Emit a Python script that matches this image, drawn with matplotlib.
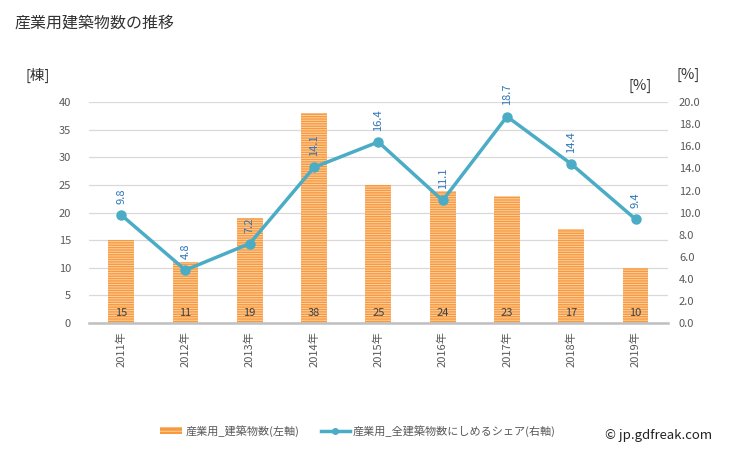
import matplotlib
matplotlib.use("Agg")
import matplotlib.pyplot as plt
from matplotlib.patches import Rectangle
from matplotlib.lines import Line2D

plt.rcParams['font.family'] = ['Noto Sans CJK JP', 'DejaVu Sans']

years = ['2011年', '2012年', '2013年', '2014年', '2015年', '2016年', '2017年', '2018年', '2019年']
counts = [15, 11, 19, 38, 25, 24, 23, 17, 10]
share = [9.8, 4.8, 7.2, 14.1, 16.4, 11.1, 18.7, 14.4, 9.4]

bar_color = '#F79A3E'
line_color = '#4BACC6'
label_blue = '#2E75B6'
tick_grey = '#595959'

fig = plt.figure(figsize=(7.29, 4.5), dpi=100)
ax = fig.add_axes([0.122, 0.282, 0.794, 0.491])
ax2 = ax.twinx()

x = list(range(len(years)))
plt.rcParams['hatch.color'] = '#FDD2A8'
plt.rcParams['hatch.linewidth'] = 0.7
ax.bar(x, counts, width=0.4, color=bar_color, hatch='-------', edgecolor='#FDD2A8', linewidth=0, zorder=2)
for xi, c in zip(x, counts):
    ax.text(xi, 0.9, str(c), ha='center', va='bottom', fontsize=8, color='#404040', zorder=3)

ax.set_xlim(-0.5, len(years) - 0.5)
ax.set_ylim(0, 40)
ax.set_yticks(range(0, 41, 5))
ax.grid(axis='y', color='#d9d9d9', linewidth=0.9, zorder=0)
ax.set_axisbelow(True)
for s in ['top', 'right', 'left']:
    ax.spines[s].set_visible(False)
ax.spines['bottom'].set_color('#bfbfbf')
ax.spines['bottom'].set_linewidth(1.8)
ax.tick_params(axis='y', length=0, labelsize=8, colors=tick_grey, pad=13)
ax.set_xticks(x)
ax.set_xticklabels(years, rotation=90, fontsize=8, color=tick_grey)
ax.tick_params(axis='x', length=0, pad=6)

ax2.plot(x, share, color=line_color, linewidth=2.5, marker='o', markersize=6.5, zorder=4)
for xi, v in zip(x, share):
    ax2.text(xi, v + 1.0, f'{v:.1f}', rotation=90, ha='center', va='bottom', fontsize=8, color=label_blue)
ax2.set_ylim(0, 20)
ax2.set_yticks([i * 2.0 for i in range(11)])
ax2.set_yticklabels([f'{i * 2:.1f}' for i in range(11)])
ax2.tick_params(axis='y', length=0, labelsize=8, colors=tick_grey, pad=8)
for s in ax2.spines.values():
    s.set_visible(False)
ax2.set_zorder(ax.get_zorder() + 1)
ax.patch.set_visible(False)

fig.text(0.02, 0.948, '産業用建築物数の推移', fontsize=11.5, color='#333333', va='center')
fig.text(0.035, 0.833, '[棟]', fontsize=10.5, color='#333333', va='center')
fig.text(0.862, 0.81, '[%]', fontsize=10.5, color='#333333', va='center')
fig.text(0.928, 0.833, '[%]', fontsize=10.5, color='#333333', va='center')

# legend
fig.patches.append(Rectangle((0.219, 0.035), 0.03, 0.016, transform=fig.transFigure,
                             facecolor=bar_color, hatch='----', edgecolor='#FDD2A8', linewidth=0))
fig.text(0.254, 0.043, '産業用_建築物数(左軸)', fontsize=8, color=tick_grey, va='center')
leg_line = Line2D([0.44, 0.46, 0.48], [0.043, 0.043, 0.043], transform=fig.transFigure,
                  color=line_color, linewidth=2.5, marker='o', markersize=4, markevery=[1])
fig.lines.append(leg_line)
fig.text(0.484, 0.043, '産業用_全建築物数にしめるシェア(右軸)', fontsize=8, color=tick_grey, va='center')
fig.text(0.83, 0.033, '© jp.gdfreak.com', fontsize=9.5, color='#222222', va='center')

fig.savefig('out.png', dpi=100)
